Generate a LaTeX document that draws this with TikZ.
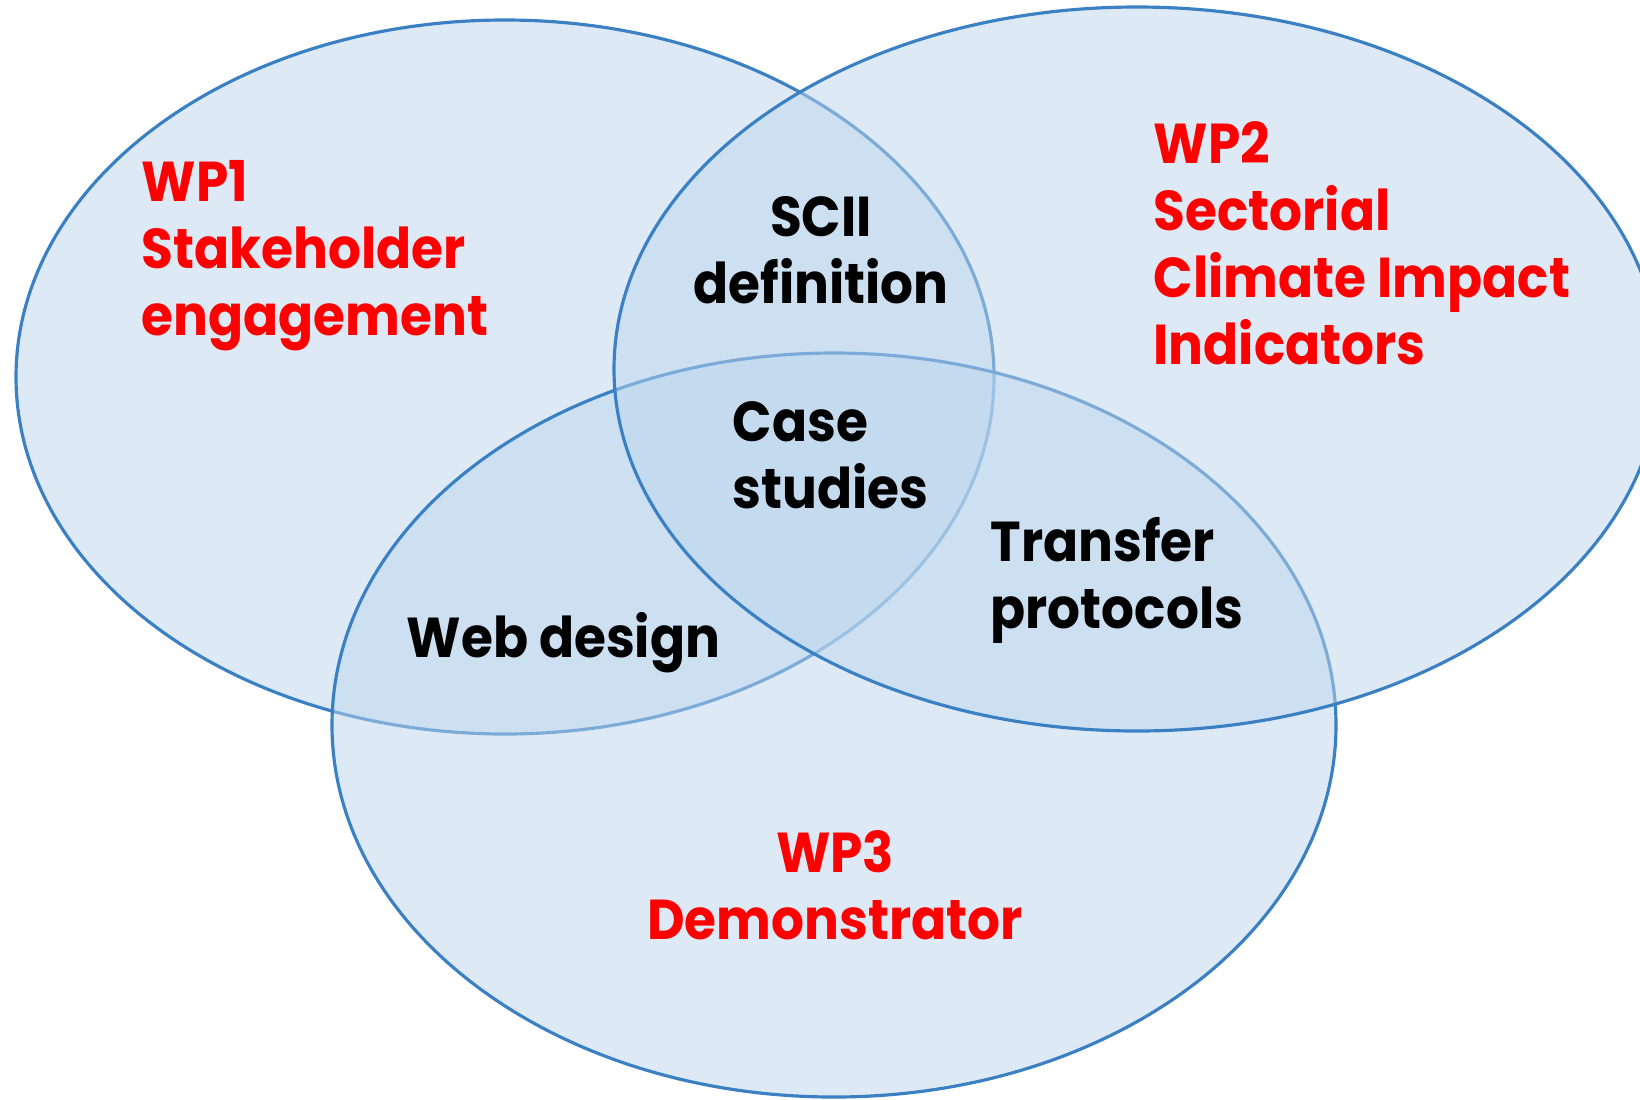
\documentclass[tikz,border=0pt]{standalone}
\usepackage{fontspec}
\setmainfont{Poppins}[FakeStretch=0.92]
\usepackage{tikz}

\definecolor{vennfill}{RGB}{189,215,238}
\definecolor{vennline}{RGB}{59,128,195}
\definecolor{wpred}{RGB}{255,0,0}

\tikzset{
	venn/.style={fill=vennfill, fill opacity=0.5, draw=vennline, line width=0.9pt},
	wplabel/.style={text=wpred, font=\fontsize{16pt}{19pt}\selectfont\bfseries, inner sep=0pt},
	overlap/.style={text=black, font=\fontsize{16pt}{19pt}\selectfont\bfseries, inner sep=0pt}
}

\begin{document}
\begin{tikzpicture}[y=-1cm]
	\clip (0,0) rectangle (16.4,10.99);
	\fill[white] (0,0) rectangle (16.4,10.99);
	
	% the three work packages
	\draw[venn] (5.05,3.77) ellipse [x radius=4.89cm, y radius=3.57cm];
	\draw[venn] (8.34,7.25) ellipse [x radius=5.02cm, y radius=3.72cm];
	\draw[venn] (11.37,3.69) ellipse [x radius=5.23cm, y radius=3.62cm];
	
	% anchors sit on the last line
	\node[wplabel, anchor=base west, align=left] (wpone) at (1.41,3.35) {WP1\\Stakeholder\\engagement};
	\node[wplabel, anchor=base west, align=left] (wptwo) at (11.53,3.64) {WP2\\Sectorial\\Climate Impact\\Indicators};
	\node[wplabel, anchor=base, align=center] (wpthree) at (8.35,9.39) {WP3\\Demonstrator};
	
	% overlaps
	\node[overlap, anchor=base, align=center] (scii) at (8.21,3.03) {SCII\\definition};
	\node[overlap, anchor=base west, align=left] (cases) at (7.32,5.08) {Case\\studies};
	\node[overlap, anchor=base west, align=left] (transfer) at (9.90,6.28) {Transfer\\protocols};
	\node[overlap, anchor=base west] (webdesign) at (4.06,6.57) {Web design};
\end{tikzpicture}
\end{document}
